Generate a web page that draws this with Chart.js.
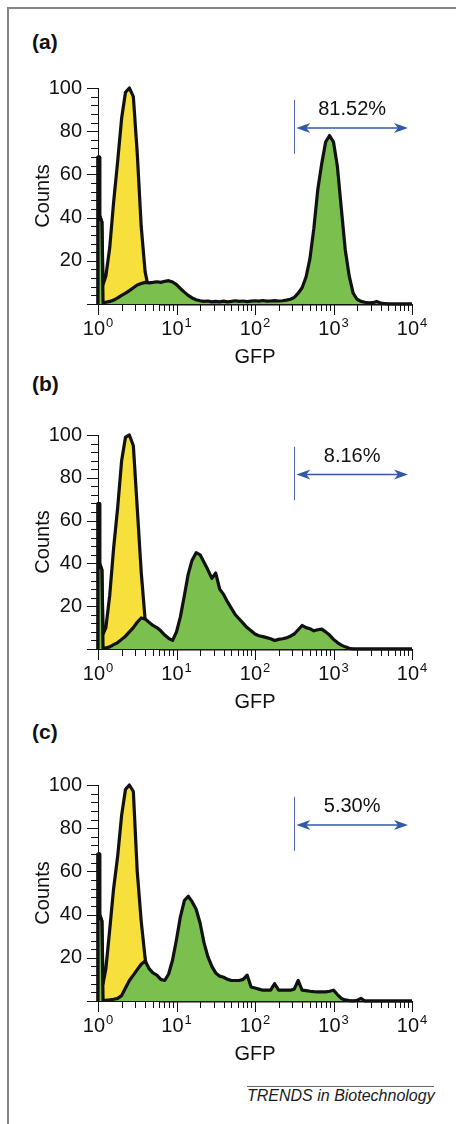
<!DOCTYPE html>
<html>
<head>
<meta charset="utf-8">
<script src="https://cdn.jsdelivr.net/npm/chart.js@4.4.1/dist/chart.umd.min.js"></script>
<style>
  html, body { margin: 0; padding: 0; background: #fff; }
  body { width: 456px; height: 1124px; position: relative; overflow: hidden; font-family: "Liberation Sans", Arial, sans-serif; }
  #frame { position: absolute; left: 7px; top: 7px; width: 460px; height: 1130px; border-top: 2px solid #858585; border-left: 2px solid #858585; box-sizing: border-box; }
  canvas { position: absolute; left: 0; }
  .plab { position: absolute; left: 32px; font: bold 21px/24px "Liberation Sans", Arial, sans-serif; color: #111; }
  #cap { position: absolute; left: 247px; top: 1086px; width: 187px; border-top: 1px solid #666; font: italic 16px/18px "Liberation Sans", Arial, sans-serif; color: #1a1a1a; text-align: right; white-space: nowrap; }
</style>
</head>
<body>
<div id="frame"></div>
<div class="plab" style="top:30px">(a)</div>
<div class="plab" style="top:372px">(b)</div>
<div class="plab" style="top:720px">(c)</div>
<canvas id="chartA" width="456" height="310" style="top:60px"></canvas>
<canvas id="chartB" width="456" height="308" style="top:407px"></canvas>
<canvas id="chartC" width="456" height="310" style="top:757px"></canvas>
<div id="cap">TRENDS in Biotechnology</div>
<script>
// ---------- data ----------
// GFP intensity bins (log-spaced channels; first entries form the off-scale spike at 10^0)
const bins = [1, 1, 1.04, 1.05, 1.12,
  1.16, 1.26, 1.41, 1.58, 1.78, 2.00, 2.24, 2.51, 2.82, 3.16, 3.55, 3.98, 4.47, 5.01, 5.62, 6.31, 7.08, 7.94, 8.91, 10.0,
  11.2, 12.6, 14.1, 15.8, 17.8, 20.0, 22.4, 25.1, 28.2, 31.6, 35.5, 39.8, 44.7, 50.1, 56.2, 63.1, 70.8, 79.4, 89.1, 100,
  112, 126, 141, 158, 178, 200, 224, 251, 282, 316, 355, 398, 447, 501, 562, 631, 708, 794, 891, 1000,
  1122, 1259, 1413, 1585, 1778, 1995, 2239, 2512, 2818, 3162, 3548, 3981, 4467, 5012, 5623, 6310, 7079, 7943, 8913, 10000];

// control (yellow) histograms
const controlA = [0, 68, 68, 41, 38,
  9, 13, 26, 47, 66, 86, 98, 100, 96, 70, 36, 15, 6, 2, 0.5, 0, 0, 0, 0, 0,
  0, 0, 0, 0, 0, 0, 0, 0, 0, 0, 0, 0, 0, 0, 0, 0, 0, 0, 0, 0,
  0, 0, 0, 0, 0, 0, 0, 0, 0, 0, 0, 0, 0, 0, 0, 0, 0, 0, 0, 0,
  0, 0, 0, 0, 0, 0, 0, 0, 0, 0, 0, 0, 0, 0, 0, 0, 0, 0, 0, 0];
const controlB = [0, 68, 68, 40, 37,
  7, 10, 25, 47, 66, 88, 99, 100, 95, 66, 36, 14, 5, 1.5, 0.4, 0, 0, 0, 0, 0,
  0, 0, 0, 0, 0, 0, 0, 0, 0, 0, 0, 0, 0, 0, 0, 0, 0, 0, 0, 0,
  0, 0, 0, 0, 0, 0, 0, 0, 0, 0, 0, 0, 0, 0, 0, 0, 0, 0, 0, 0,
  0, 0, 0, 0, 0, 0, 0, 0, 0, 0, 0, 0, 0, 0, 0, 0, 0, 0, 0, 0];
const controlC = [0, 68, 68, 40, 37,
  8, 15, 33, 52, 67, 86, 98, 100, 97, 60, 37, 20, 8, 2.5, 0.5, 0, 0, 0, 0, 0,
  0, 0, 0, 0, 0, 0, 0, 0, 0, 0, 0, 0, 0, 0, 0, 0, 0, 0, 0, 0,
  0, 0, 0, 0, 0, 0, 0, 0, 0, 0, 0, 0, 0, 0, 0, 0, 0, 0, 0, 0,
  0, 0, 0, 0, 0, 0, 0, 0, 0, 0, 0, 0, 0, 0, 0, 0, 0, 0, 0, 0];

// GFP-sample (green) histograms
const gfpA = [0, 68, 68, 41, 38,
  0.5, 0.8, 1.2, 1.8, 2.8, 4, 5, 6.2, 7.5, 8.8, 9.5, 10, 9.8, 10, 10.3, 10, 10.5, 10.8, 10.2,
  9, 7.2, 5.5, 4, 2.8, 2, 1.5, 1.2, 1.4, 1, 1.2, 1, 1.3, 1, 1.2, 1.5, 1.2, 1.4, 1.1, 1.3,
  1.5, 1.3, 1.6, 1.3, 1.4, 1.6, 1.4, 1.5, 1.8, 2.2, 3, 5, 7.5, 12.5, 21, 35, 53, 65, 75, 78,
  75, 63.5, 44, 25, 13, 5, 2.2, 1.2, 0.8, 0.5, 0.6, 1.2, 0.4, 0.2, 0, 0, 0, 0, 0, 0,
  0];
const gfpB = [0, 68, 68, 40, 37,
  0.3, 0.5, 1, 2, 3, 4.5, 6, 8, 10, 12.5, 14.5, 14, 12.5, 11, 10, 8.5, 6.5, 5, 4,
  8, 15, 25, 35, 41.5, 45, 44, 40.5, 37, 33, 35.5, 28, 25.5, 22, 19, 16, 14, 12, 10, 8.5,
  7, 6.2, 5.8, 5.3, 4.8, 4, 4.5, 4.8, 5.2, 6, 7, 9, 11, 10, 9.5, 8.5, 9, 9.3, 8, 6.5,
  4.5, 3, 1.8, 1, 0.3, 0, 0, 0, 0, 0, 0, 0, 0, 0, 0, 0, 0, 0, 0, 0,
  0];
const gfpC = [0, 68, 68, 40, 37,
  0.3, 0.3, 0.5, 0.8, 1.2, 2.5, 6, 9.5, 12, 14.5, 17, 18.5, 15, 13, 12, 10, 9.5, 12.5, 19,
  28.5, 39, 46.5, 48.5, 46, 42.5, 36, 27, 20.5, 16, 13, 11.5, 11, 10, 9.5, 9.5, 9.5, 10, 12, 6.5,
  6, 5.5, 5, 5, 5, 8, 5, 5, 5, 5, 5.5, 9.5, 5, 4.8, 4.5, 4.3, 4.2, 4.2, 4.2, 4.5,
  5, 3, 1.2, 0.5, 0.2, 0, 0.3, 1.2, 0, 0, 0, 0, 0, 0, 0, 0, 0, 0, 0, 0,
  0];

// axes / annotation values
const xTickValues = [1, 2, 3, 4, 5, 6, 7, 8, 9, 10, 20, 30, 40, 50, 60, 70, 80, 90,
  100, 200, 300, 400, 500, 600, 700, 800, 900, 1000, 2000, 3000, 4000, 5000, 6000, 7000, 8000, 9000, 10000];
const decadeValues = [1, 10, 100, 1000, 10000];
const decadeBase = ['10', '10', '10', '10', '10'];
const decadeExponents = ['0', '1', '2', '3', '4'];
const yLabelValues = [20, 40, 60, 80, 100];
const panelLabels = ['(a)', '(b)', '(c)'];
const percentLabels = ['81.52%', '8.16%', '5.30%'];
const gateValue = 315;          // GFP position of the gate marker
const gateSpan = [69.5, 94.5];  // counts span of the gate marker
const arrowRange = [336, 8890]; // GFP range of the double arrow
const arrowLevel = 81.5;        // counts level of the arrow
const labelLevel = 90;          // counts level of the percentage text

// ---------- styling ----------
const FONT = '"Liberation Sans", Arial, sans-serif';
const YELLOW = '#f7e03b';
const GREEN = '#7bbf4f';
const OUTLINE = '#111111';
const BLUE = '#3159a8';
Chart.defaults.font.family = FONT;

const decorPlugin = {
  id: 'decor',
  afterDraw(chart, args, opts) {
    const {ctx, chartArea: ca, scales: {x, y}} = chart;
    ctx.save();
    // tick marks
    ctx.strokeStyle = OUTLINE;
    ctx.lineWidth = 1;
    ctx.beginPath();
    y.ticks.forEach(t => {
      const py = Math.round(y.getPixelForValue(t.value)) + 0.5;
      const len = (t.value % 20 === 0) ? 11 : 7;
      ctx.moveTo(ca.left - len, py); ctx.lineTo(ca.left, py);
    });
    x.ticks.forEach(t => {
      const px = Math.round(x.getPixelForValue(t.value)) + 0.5;
      const len = decadeValues.includes(t.value) ? 11 : 7;
      ctx.moveTo(px, ca.bottom); ctx.lineTo(px, ca.bottom + len);
    });
    ctx.stroke();
    // decade labels 10^n
    ctx.fillStyle = OUTLINE;
    ctx.textBaseline = 'alphabetic';
    ctx.textAlign = 'left';
    decadeValues.forEach((v, i) => {
      const px = x.getPixelForValue(v);
      ctx.font = '20px ' + FONT;
      const w1 = ctx.measureText(decadeBase[i]).width;
      ctx.font = '13px ' + FONT;
      const w2 = ctx.measureText(decadeExponents[i]).width;
      const start = px - (w1 + w2 + 1) / 2;
      ctx.font = '20px ' + FONT;
      ctx.fillText(decadeBase[i], start, ca.bottom + 31);
      ctx.font = '13px ' + FONT;
      ctx.fillText(decadeExponents[i], start + w1 + 1, ca.bottom + 22.5);
    });
    // gate marker
    const gx = Math.round(x.getPixelForValue(gateValue)) + 0.5;
    ctx.strokeStyle = '#5566b4';
    ctx.lineWidth = 1;
    ctx.beginPath();
    ctx.moveTo(gx, y.getPixelForValue(gateSpan[0]));
    ctx.lineTo(gx, y.getPixelForValue(gateSpan[1]));
    ctx.stroke();
    // double arrow
    const ax1 = x.getPixelForValue(arrowRange[0]);
    const ax2 = x.getPixelForValue(arrowRange[1]);
    const ay = y.getPixelForValue(arrowLevel);
    ctx.strokeStyle = BLUE;
    ctx.fillStyle = BLUE;
    ctx.lineWidth = 1.5;
    ctx.beginPath();
    ctx.moveTo(ax1 + 6, ay); ctx.lineTo(ax2 - 6, ay);
    ctx.stroke();
    const head = (tip, dir) => {
      ctx.beginPath();
      ctx.moveTo(tip, ay);
      ctx.lineTo(tip + dir * 14, ay - 5);
      ctx.lineTo(tip + dir * 10, ay);
      ctx.lineTo(tip + dir * 14, ay + 5);
      ctx.closePath();
      ctx.fill();
    };
    head(ax1, 1);
    head(ax2, -1);
    // percentage
    ctx.fillStyle = OUTLINE;
    ctx.font = '20px ' + FONT;
    ctx.textAlign = 'center';
    ctx.textBaseline = 'middle';
    ctx.fillText(opts.label, (ax1 + ax2) / 2, y.getPixelForValue(labelLevel));
    ctx.restore();
  }
};

function makePanel(canvasId, gfp, control, pct) {
  const toPoints = vals => bins.map((b, i) => ({x: b, y: vals[i]}));
  return new Chart(document.getElementById(canvasId), {
    type: 'line',
    data: {
      datasets: [
        {label: 'GFP sample', data: toPoints(gfp), fill: 'origin', backgroundColor: GREEN, clip: 6,
         borderColor: OUTLINE, borderWidth: 3.2, pointRadius: 0, tension: 0, borderJoinStyle: 'round'},
        {label: 'Control', data: toPoints(control), fill: 'origin', backgroundColor: YELLOW, clip: 6,
         borderColor: OUTLINE, borderWidth: 3.2, pointRadius: 0, tension: 0, borderJoinStyle: 'round'}
      ]
    },
    options: {
      responsive: false,
      animation: false,
      events: [],
      layout: {padding: {top: 20, left: 31, right: 44, bottom: 1}},
      plugins: {legend: {display: false}, tooltip: {enabled: false}, decor: {label: pct}},
      scales: {
        x: {
          type: 'logarithmic', min: 1, max: 10000,
          afterBuildTicks: s => { s.ticks = xTickValues.map(v => ({value: v})); },
          afterFit: s => { s.height = 65; },
          ticks: {display: false},
          grid: {display: false, drawTicks: false},
          border: {display: true, color: OUTLINE, width: 1},
          title: {display: true, text: 'GFP', color: OUTLINE, font: {size: 20, family: FONT}, padding: {top: 0, bottom: 0}}
        },
        y: {
          min: 0, max: 100,
          afterFit: s => { s.width = 67; },
          ticks: {stepSize: 4, autoSkip: false, padding: 16, color: OUTLINE, font: {size: 20, family: FONT},
                  callback: v => yLabelValues.includes(v) ? String(v) : ''},
          grid: {display: false, drawTicks: false},
          border: {display: true, color: OUTLINE, width: 1},
          title: {display: true, text: 'Counts', color: OUTLINE, font: {size: 20, family: FONT}, padding: {top: 0, bottom: 0}}
        }
      }
    },
    plugins: [decorPlugin]
  });
}

makePanel('chartA', gfpA, controlA, percentLabels[0]);
makePanel('chartB', gfpB, controlB, percentLabels[1]);
makePanel('chartC', gfpC, controlC, percentLabels[2]);
</script>
</body>
</html>
